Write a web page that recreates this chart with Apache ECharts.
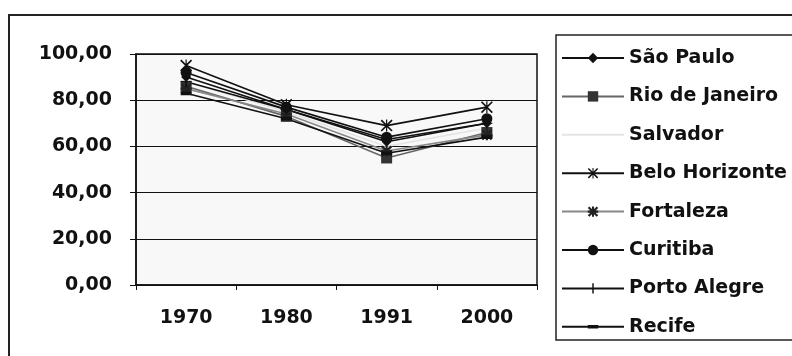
<!DOCTYPE html>
<html>
<head>
<meta charset="utf-8">
<script src="https://cdn.jsdelivr.net/npm/echarts@6/dist/echarts.min.js"></script>
<style>
  html, body { margin: 0; padding: 0; background: #fff; }
  #chart { width: 792px; height: 356px; }
</style>
</head>
<body>
<div id="chart"></div>
<script>
// Census years on the category axis
const years = ['1970', '1980', '1991', '2000'];

// Values per city (percent), one array per series
const saoPaulo      = [90, 76, 62, 70];
const rioDeJaneiro  = [86, 73, 55, 66];
const salvador      = [88, 75, 60, 68];
const beloHorizonte = [95, 78, 69, 77];
const fortaleza     = [85, 74, 58, 65];
const curitiba      = [92, 77, 64, 72];
const portoAlegre   = [88, 76, 63, 70];
const recife        = [83, 72, 57, 64];

const cityNames = ['São Paulo', 'Rio de Janeiro', 'Salvador', 'Belo Horizonte',
                   'Fortaleza', 'Curitiba', 'Porto Alegre', 'Recife'];

// Marker outlines built from thin bars
const SYM_X_STAR = 'path://M0,1L1,0L10,9L9,10Z M9,0L10,1L1,10L0,9Z M4.5,0H5.5V10H4.5Z';
const SYM_ASTER  = 'path://M0,1.5L1.5,0L10,8.5L8.5,10Z M8.5,0L10,1.5L1.5,10L0,8.5Z M4,0H6V10H4Z M0,4H10V6H0Z';
const SYM_PLUS   = 'path://M4.3,0H5.7V10H4.3Z M0,4.5H10V5.5H0Z';
// short bar; the two specks in the corners keep the box square
const SYM_DASH   = 'path://M0,3.3H10V6.7H0Z M0,0H0.01V0.01H0Z M9.99,9.99H10V10H9.99Z';

const styles = [
  { line: '#111', mark: '#111', symbol: 'diamond', size: 10 },
  { line: '#666', mark: '#333', symbol: 'rect', size: 11 },
  { line: '#e4e4e4', mark: '#e4e4e4', symbol: 'circle', size: 1, hide: true },
  { line: '#111', mark: '#111', symbol: SYM_X_STAR, size: 12 },
  { line: '#888', mark: '#222', symbol: SYM_ASTER, size: 11 },
  { line: '#111', mark: '#111', symbol: 'circle', size: 11 },
  { line: '#111', mark: '#111', symbol: SYM_PLUS, size: 11 },
  { line: '#111', mark: '#111', symbol: SYM_DASH, size: 11 }
];

const seriesData = [saoPaulo, rioDeJaneiro, salvador, beloHorizonte,
                    fortaleza, curitiba, portoAlegre, recife];

const series = seriesData.map((vals, i) => ({
  name: cityNames[i],
  type: 'line',
  data: vals,
  symbol: styles[i].symbol,
  symbolSize: styles[i].size,
  lineStyle: { color: styles[i].line, width: 1.6 },
  itemStyle: { color: styles[i].mark, borderWidth: 0, opacity: styles[i].hide ? 0 : 1 },
  z: i === 2 ? 1 : 3
}));

const chart = echarts.init(document.getElementById('chart'), null, { renderer: 'canvas' });

const font = 'DejaVu Sans';

chart.setOption({
  animation: false,
  backgroundColor: '#fff',
  grid: {
    left: 136, right: 255, top: 54, bottom: 71,
    show: true, borderColor: '#111', borderWidth: 1.5, backgroundColor: '#f8f8f8'
  },
  xAxis: {
    type: 'category',
    data: years,
    boundaryGap: true,
    axisLine: { lineStyle: { color: '#111', width: 1.5 } },
    axisTick: { show: true, length: 5, lineStyle: { color: '#111' } },
    axisLabel: { color: '#111', fontFamily: font, fontWeight: 'bold', fontSize: 19, margin: 24 }
  },
  yAxis: {
    type: 'value',
    min: 0, max: 100, interval: 20,
    axisLine: { show: true, lineStyle: { color: '#111', width: 1.5 } },
    axisTick: { show: true, length: 6, lineStyle: { color: '#111' } },
    splitLine: { lineStyle: { color: '#111', width: 1 } },
    axisLabel: {
      color: '#111', fontFamily: font, fontWeight: 'bold', fontSize: 19, margin: 24,
      formatter: v => v.toFixed(2).replace('.', ',')
    }
  },
  legend: {
    orient: 'vertical',
    left: 556, top: 43,
    itemWidth: 62, itemHeight: 13, itemGap: 18.4,
    textStyle: { color: '#111', fontFamily: font, fontWeight: 'bold', fontSize: 19, lineHeight: 20 },
    data: cityNames
  },
  graphic: [
    { type: 'rect', shape: { x: 9, y: 15, width: 800, height: 360 },
      style: { fill: 'none', stroke: '#222', lineWidth: 2 }, silent: true },
    { type: 'rect', shape: { x: 556, y: 35, width: 260, height: 305 },
      style: { fill: 'none', stroke: '#222', lineWidth: 1.5 }, silent: true }
  ],
  series: series
});
</script>
</body>
</html>
